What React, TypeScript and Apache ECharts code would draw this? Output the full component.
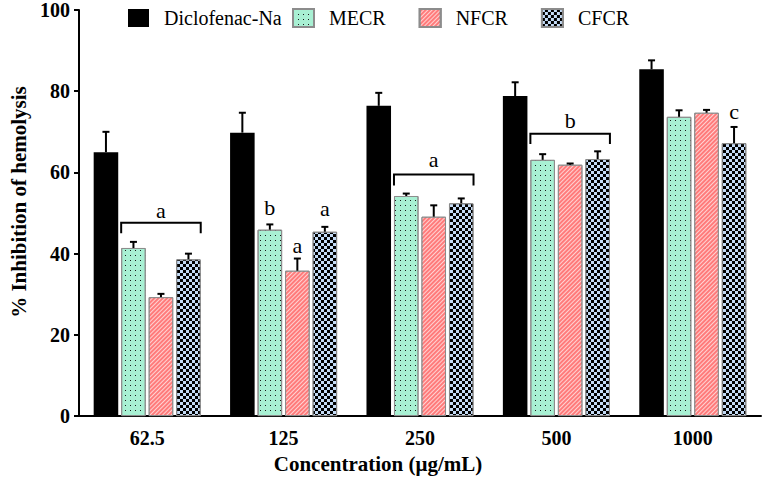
import React, { useEffect, useRef } from "react";
import * as echarts from "echarts";

const categories = ["62.5", "125", "250", "500", "1000"];
const seriesNames = ["Diclofenac-Na", "MECR", "NFCR", "CFCR"];

const diclofenac = [65.0, 69.8, 76.4, 78.8, 85.4];
const diclofenacSD = [5.0, 4.9, 3.2, 3.4, 2.2];
const mecr = [41.4, 45.9, 54.2, 63.1, 73.7];
const mecrSD = [1.5, 1.3, 0.6, 1.4, 1.6];
const nfcr = [29.3, 35.8, 49.1, 61.9, 74.7];
const nfcrSD = [0.8, 3.0, 2.8, 0.3, 0.7];
const cfcr = [38.6, 45.4, 52.4, 63.3, 67.2];
const cfcrSD = [1.4, 1.2, 1.2, 1.9, 4.0];

// group brackets (spanning MECR..CFCR)
const bracketCats = [0, 2, 3];
const bracketTop = [47.6, 59.5, 69.5];
const bracketBottom = [45.0, 56.8, 67.0];
const bracketLetters = ["a", "a", "b"];
const bracketLetterY = [50.6, 63.1, 72.9];

// single letters above bars: category, series slot, y
const singleCats = [1, 1, 1, 4];
const singleSlots = [1, 2, 3, 3];
const singleY = [51.4, 42.0, 51.0, 74.9];
const singleLetters = ["b", "a", "a", "c"];

const yTicks = { min: 0, max: 100, interval: 20 };

const FONT = "Liberation Serif";
const BAR_W = 0.18; // fraction of band
const BAR_GAP = 0.12; // fraction of bar width

function slotOffset(band: number, slot: number) {
  const bw = band * BAR_W;
  const gap = bw * BAR_GAP;
  return (slot - 1.5) * (bw + gap);
}

export default function App() {
  const ref = useRef<HTMLDivElement>(null);
  useEffect(() => {
    if (!ref.current) return;
    const chart = echarts.init(ref.current, undefined, { renderer: "svg" });

    const values = [diclofenac, mecr, nfcr, cfcr];
    const sds = [diclofenacSD, mecrSD, nfcrSD, cfcrSD];

    const barStyles: any[] = [
      { color: "#000000", borderColor: "#000000", borderWidth: 0, decal: { symbol: "none" } },
      {
        color: "#a8f0d3",
        borderColor: "#8c8c8c",
        borderWidth: 1,
        decal: { symbol: "rect", symbolSize: 1, color: "#1a1a1a", dashArrayX: [1, 4], dashArrayY: [1, 4] },
      },
      {
        color: "#ff7b7b",
        borderColor: "#8c8c8c",
        borderWidth: 1,
        decal: { symbol: "rect", symbolSize: 1, color: "rgba(255,215,215,0.95)", dashArrayX: [1, 0], dashArrayY: [1, 2], rotation: -Math.PI / 4 },
      },
      {
        color: "#c4dbf6",
        borderColor: "#8c8c8c",
        borderWidth: 1,
        decal: { symbol: "rect", symbolSize: 1, color: "#000000", dashArrayX: [[3, 3], [0, 3, 3, 0]], dashArrayY: [3, 0] },
      },
    ];

    const barSeries = seriesNames.map((name, i) => ({
      name,
      type: "bar",
      data: values[i],
      barWidth: `${BAR_W * 100}%`,
      barGap: `${BAR_GAP * 100}%`,
      itemStyle: barStyles[i],
    }));

    const errSeries = seriesNames.map((name, i) => ({
      type: "custom",
      name: name + "-err",
      clip: false,
      z: 5,
      data: values[i].map((v, k) => [k, v, sds[i][k]]),
      renderItem: (params: any, api: any) => {
        const band = api.size([1, 0])[0];
        const off = slotOffset(band, i);
        const base = api.coord([api.value(0), api.value(1)]);
        const top = api.coord([api.value(0), api.value(1) + api.value(2)]);
        const x = base[0] + off;
        const capHalf = 3.5;
        return {
          type: "group",
          children: [
            { type: "line", shape: { x1: x, y1: base[1], x2: x, y2: top[1] }, style: { stroke: "#000", lineWidth: 2 } },
            { type: "line", shape: { x1: x - capHalf, y1: top[1], x2: x + capHalf, y2: top[1] }, style: { stroke: "#000", lineWidth: 2 } },
          ],
        };
      },
    }));

    const bracketSeries = {
      type: "custom",
      name: "brackets",
      clip: false,
      z: 6,
      data: bracketCats.map((c, k) => [c, bracketTop[k], bracketBottom[k], bracketLetterY[k]]),
      renderItem: (params: any, api: any) => {
        const band = api.size([1, 0])[0];
        const bw = band * BAR_W;
        const c = api.value(0);
        const topP = api.coord([c, api.value(1)]);
        const botP = api.coord([c, api.value(2)]);
        const letP = api.coord([c, api.value(3)]);
        const xl = topP[0] + slotOffset(band, 1) - bw / 2;
        const xr = topP[0] + slotOffset(band, 3) + bw / 2;
        return {
          type: "group",
          children: [
            {
              type: "polyline",
              shape: { points: [[xl, botP[1]], [xl, topP[1]], [xr, topP[1]], [xr, botP[1]]] },
              style: { stroke: "#000", lineWidth: 2, fill: "none" },
            },
            {
              type: "text",
              x: (xl + xr) / 2,
              y: letP[1],
              style: { text: bracketLetters[params.dataIndex], fontFamily: FONT, fontSize: 22, fill: "#000", align: "center", verticalAlign: "middle" },
            },
          ],
        };
      },
    };

    const singleSeries = {
      type: "custom",
      name: "letters",
      clip: false,
      z: 6,
      data: singleCats.map((c, k) => [c, singleY[k]]),
      renderItem: (params: any, api: any) => {
        const band = api.size([1, 0])[0];
        const p = api.coord([api.value(0), api.value(1)]);
        return {
          type: "text",
          x: p[0] + slotOffset(band, singleSlots[params.dataIndex]),
          y: p[1],
          style: { text: singleLetters[params.dataIndex], fontFamily: FONT, fontSize: 22, fill: "#000", align: "center", verticalAlign: "middle" },
        };
      },
    };

    const legendText = { fontFamily: FONT, fontSize: 20, color: "#000", padding: [0, 0, 0, 10] };

    chart.setOption({
      animation: false,
      aria: { enabled: true, decal: { show: true } },
      textStyle: { fontFamily: FONT },
      legend: [
        {
          data: [seriesNames[0]],
          left: 128,
          top: 8,
          padding: 0,
          icon: "rect",
          itemWidth: 21,
          itemHeight: 18,
          textStyle: legendText,
          selectedMode: false,
        },
        {
          data: seriesNames.slice(1),
          left: 292,
          top: 8,
          padding: 0,
          icon: "rect",
          itemWidth: 21,
          itemHeight: 18,
          itemGap: 33,
          textStyle: legendText,
          selectedMode: false,
        },
      ],
      grid: { left: 67, right: 1, top: 9, bottom: 59.5, containLabel: false },
      xAxis: {
        type: "category",
        data: categories,
        name: "Concentration (\u03bcg/mL)",
        nameLocation: "middle",
        nameGap: 31,
        nameTextStyle: { fontFamily: FONT, fontSize: 21, fontWeight: "bold", color: "#000", padding: [0, 84, 0, 0] },
        axisLine: { lineStyle: { color: "#000", width: 2 } },
        axisTick: { alignWithLabel: true, length: 5, lineStyle: { color: "#000", width: 2 } },
        axisLabel: { fontFamily: FONT, fontSize: 20, fontWeight: "bold", color: "#000", margin: 12 },
      },
      yAxis: {
        type: "value",
        min: yTicks.min,
        max: yTicks.max,
        interval: yTicks.interval,
        name: "% Inhibition of hemolysis",
        nameLocation: "middle",
        nameGap: 50,
        nameTextStyle: { fontFamily: FONT, fontSize: 21, fontWeight: "bold", color: "#000", padding: [0, 0, 0, 22] },
        axisLine: { show: true, lineStyle: { color: "#000", width: 2 } },
        axisTick: { show: true, length: 5, lineStyle: { color: "#000", width: 2 } },
        axisLabel: { fontFamily: FONT, fontSize: 20, fontWeight: "bold", color: "#000", margin: 9 },
        splitLine: { show: false },
      },
      series: [...barSeries, ...errSeries, bracketSeries, singleSeries],
    });

    return () => chart.dispose();
  }, []);

  return <div ref={ref} style={{ width: 762, height: 479, position: "absolute", left: 0, top: 0, background: "#fff" }} />;
}
